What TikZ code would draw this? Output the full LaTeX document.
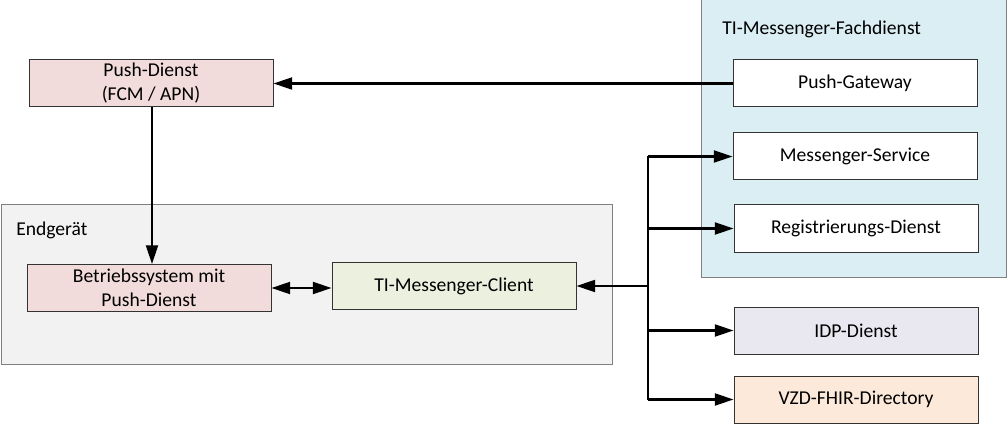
\documentclass[tikz,border=0pt]{standalone}
\usepackage{fontspec}
\setmainfont{Carlito}
\usetikzlibrary{arrows.meta}
\definecolor{pushred}{HTML}{F2DCDB}
\definecolor{clientgreen}{HTML}{EBF1DE}
\definecolor{fachblue}{HTML}{DAEEF3}
\definecolor{endgray}{HTML}{F2F2F2}
\definecolor{idplav}{HTML}{E9E7EF}
\definecolor{vzdorange}{HTML}{FCE9DA}
\begin{document}
\begin{tikzpicture}[x=0.75pt,y=-0.75pt,
  font=\fontsize{14.7}{18}\selectfont,
  box/.style={draw=black!80, line width=0.75pt, minimum width=183pt, minimum height=35.25pt, inner sep=0pt, align=center, fill=white},
  container/.style={draw=black!50, line width=0.75pt, inner sep=0pt},
  conn/.style={line width=1.6pt, draw=black},
  arr/.style={conn, -{Triangle[length=14pt,width=9pt]}},
  darr/.style={conn, {Triangle[length=14pt,width=9pt]}-{Triangle[length=14pt,width=9pt]}}]
\useasboundingbox (0,0) rectangle (1007,424);
% containers
\node[container, fill=fachblue, minimum width=228.75pt, minimum height=207.75pt] (fach) at (853.5,138.5) {};
\node[anchor=west, inner sep=0pt] (fachlabel) at (722,29) {TI-Messenger-Fachdienst};
\node[container, fill=endgray, minimum width=458.25pt, minimum height=119.25pt] (endg) at (306.5,284.5) {};
\node[anchor=west, inner sep=0pt] (endglabel) at (16,230) {Endgerät};
% boxes
\node[box, fill=pushred] (push) at (151,83.5) {Push-Dienst\\(FCM / APN)};
\node[box] (pgw) at (855,83.5) {Push-Gateway};
\node[box] (ms) at (855,156.5) {Messenger-Service};
\node[box] (reg) at (856,228.5) {Registrierungs-Dienst};
\node[box, fill=idplav] (idp) at (856,330.5) {IDP-Dienst};
\node[box, fill=vzdorange] (vzd) at (856,399.5) {VZD-FHIR-Directory};
\node[box, fill=pushred] (os) at (149,288) {Betriebssystem mit\\Push-Dienst};
\node[box, fill=clientgreen] (client) at (454,286) {TI-Messenger-Client};
% connectors
\draw[arr] (pgw.west) -- (push.east);
\draw[arr] (push.south -| 152,0) -- (os.north -| 152,0);
\draw[darr] (os.east) -- (os.east -| client.west);
\coordinate (bus) at (648,286);
\draw[conn] (bus |- ms.west) -- (bus |- vzd.west);
\draw[arr] (bus) -- (client.east);
\draw[arr] (bus |- ms.west) -- (ms.west);
\draw[arr] (bus |- reg.west) -- (reg.west);
\draw[arr] (bus |- idp.west) -- (idp.west);
\draw[arr] (bus |- vzd.west) -- (vzd.west);
\end{tikzpicture}
\end{document}
